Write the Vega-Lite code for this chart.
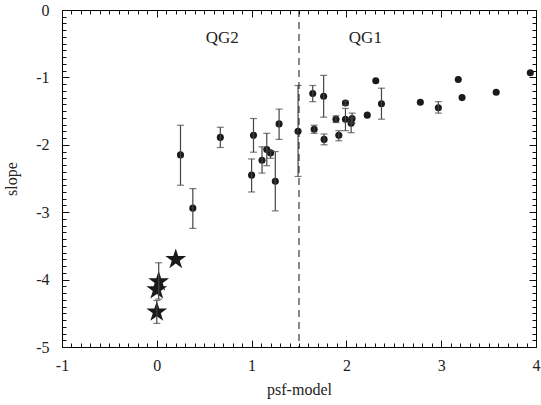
{
  "$schema": "https://vega.github.io/schema/vega-lite/v6.json",
  "width": 474,
  "height": 337,
  "autosize": "none",
  "padding": {"left": 62, "top": 10, "right": 5, "bottom": 58},
  "background": "white",
  "config": {"view": {"stroke": "black", "strokeWidth": 1}},
  "data": {"values": [
      {"x": 0.25, "y": -2.15, "lo": -2.6, "hi": -1.71, "kind": "circle"},
      {"x": 0.38, "y": -2.94, "lo": -3.24, "hi": -2.65, "kind": "circle"},
      {"x": 0.67, "y": -1.89, "lo": -2.04, "hi": -1.74, "kind": "circle"},
      {"x": 1.0, "y": -2.45, "lo": -2.7, "hi": -2.21, "kind": "circle"},
      {"x": 1.02, "y": -1.86, "lo": -2.11, "hi": -1.61, "kind": "circle"},
      {"x": 1.11, "y": -2.23, "lo": -2.42, "hi": -2.03, "kind": "circle"},
      {"x": 1.16, "y": -2.07, "lo": -2.31, "hi": -1.83, "kind": "circle"},
      {"x": 1.2, "y": -2.12, "lo": -2.2, "hi": -2.09, "kind": "circle"},
      {"x": 1.25, "y": -2.54, "lo": -2.98, "hi": -2.1, "kind": "circle"},
      {"x": 1.29, "y": -1.69, "lo": -1.92, "hi": -1.47, "kind": "circle"},
      {"x": 1.49, "y": -1.8, "lo": -2.47, "hi": -1.12, "kind": "circle"},
      {"x": 1.645, "y": -1.24, "lo": -1.36, "hi": -1.12, "kind": "circle"},
      {"x": 1.66, "y": -1.77, "lo": -1.83, "hi": -1.71, "kind": "circle"},
      {"x": 1.76, "y": -1.28, "lo": -1.59, "hi": -0.97, "kind": "circle"},
      {"x": 1.765, "y": -1.92, "lo": -2.0, "hi": -1.84, "kind": "circle"},
      {"x": 1.89, "y": -1.62, "lo": -1.67, "hi": -1.57, "kind": "circle"},
      {"x": 1.92, "y": -1.86, "lo": -1.94, "hi": -1.79, "kind": "circle"},
      {"x": 1.99, "y": -1.38, "lo": -1.41, "hi": -1.35, "kind": "circle"},
      {"x": 1.99, "y": -1.62, "lo": -1.79, "hi": -1.46, "kind": "circle"},
      {"x": 2.06, "y": -1.61, "lo": -1.68, "hi": -1.53, "kind": "circle"},
      {"x": 2.05, "y": -1.68, "lo": -1.82, "hi": -1.6, "kind": "circle"},
      {"x": 2.22, "y": -1.56, "kind": "circle"},
      {"x": 2.31, "y": -1.05, "kind": "circle"},
      {"x": 2.37, "y": -1.39, "lo": -1.62, "hi": -1.16, "kind": "circle"},
      {"x": 2.78, "y": -1.37, "kind": "circle"},
      {"x": 2.97, "y": -1.45, "lo": -1.53, "hi": -1.36, "kind": "circle"},
      {"x": 3.18, "y": -1.03, "kind": "circle"},
      {"x": 3.22, "y": -1.3, "kind": "circle"},
      {"x": 3.58, "y": -1.22, "kind": "circle"},
      {"x": 3.94, "y": -0.93, "kind": "circle"},
      {"x": 0.2, "y": -3.7, "kind": "star"},
      {"x": 0.02, "y": -4.03, "lo": -4.29, "hi": -3.75, "kind": "star"},
      {"x": 0.0, "y": -4.15, "kind": "star"},
      {"x": 0.0, "y": -4.48, "lo": -4.65, "hi": -4.31, "kind": "star"},
      {"x": 0.69, "y": -0.42, "text": "QG2", "kind": "label"},
      {"x": 2.2, "y": -0.42, "text": "QG1", "kind": "label"},
      {"x": 1.5, "kind": "divider"}
  ]},
  "resolve": {"axis": {"x": "independent", "y": "independent"}},
  "layer": [
    {
      "transform": [{"filter": "datum.kind === 'circle'"}],
      "mark": {"type": "point", "shape": "circle", "filled": true, "color": "#1a1a1a", "opacity": 1, "size": 50},
      "encoding": {
        "x": {"field": "x", "type": "quantitative", "scale": {"domain": [-1, 4], "nice": false, "zero": false},
          "axis": {"orient": "bottom", "title": "psf-model", "values": [-1, 0, 1, 2, 3, 4],
            "domain": false, "grid": false, "tickColor": "#111", "tickWidth": 1, "tickSize": -7,
            "labelExpr": "'' + datum.value", "labelPadding": 17, "labelFlush": false,
            "labelFont": "Liberation Serif", "labelFontSize": 16, "labelColor": "#222",
            "titleFont": "Liberation Serif", "titleFontSize": 16, "titleFontWeight": "normal", "titleColor": "#222", "titlePadding": 8}},
        "y": {"field": "y", "type": "quantitative", "scale": {"domain": [-5, 0], "nice": false, "zero": false},
          "axis": {"orient": "left", "title": "slope", "values": [-5, -4, -3, -2, -1, 0],
            "domain": false, "grid": false, "tickColor": "#111", "tickWidth": 1, "tickSize": -7,
            "labelExpr": "'' + datum.value", "labelPadding": 20, "labelFlush": false,
            "labelFont": "Liberation Serif", "labelFontSize": 16, "labelColor": "#222",
            "titleFont": "Liberation Serif", "titleFontSize": 16, "titleFontWeight": "normal", "titleColor": "#222", "titlePadding": 16}}
      }
    },
    {
      "transform": [{"filter": "datum.kind === 'star'"}],
      "mark": {"type": "point", "shape": "M0,-1L0.2245,-0.309L0.951,-0.309L0.3633,0.118L0.588,0.809L0,0.382L-0.588,0.809L-0.3633,0.118L-0.951,-0.309L-0.2245,-0.309Z", "filled": true, "color": "#1a1a1a", "opacity": 1, "size": 480},
      "encoding": {
        "x": {"field": "x", "type": "quantitative",
          "axis": {"orient": "top", "title": null, "values": [-1, 0, 1, 2, 3, 4], "domain": false, "grid": false,
            "tickColor": "#111", "tickWidth": 1, "tickSize": -7, "labels": false}},
        "y": {"field": "y", "type": "quantitative",
          "axis": {"orient": "right", "title": null, "values": [-5, -4, -3, -2, -1, 0], "domain": false, "grid": false,
            "tickColor": "#111", "tickWidth": 1, "tickSize": -7, "labels": false}}
      }
    },
    {
      "transform": [{"filter": "isValid(datum.lo)"}],
      "mark": {"type": "rule", "color": "#444", "strokeWidth": 1.2},
      "encoding": {
        "x": {"field": "x", "type": "quantitative",
          "axis": {"orient": "bottom", "title": null, "tickCount": 50, "domain": false, "grid": false,
            "tickColor": "#111", "tickWidth": 1, "tickSize": -4, "labels": false}},
        "y": {"field": "lo", "type": "quantitative",
          "axis": {"orient": "left", "title": null, "tickCount": 50, "domain": false, "grid": false,
            "tickColor": "#111", "tickWidth": 1, "tickSize": -4, "labels": false}},
        "y2": {"field": "hi"}
      }
    },
    {
      "transform": [{"filter": "isValid(datum.lo)"}],
      "mark": {"type": "tick", "orient": "horizontal", "color": "#444", "size": 7, "thickness": 1.2},
      "encoding": {
        "x": {"field": "x", "type": "quantitative",
          "axis": {"orient": "top", "title": null, "tickCount": 50, "domain": false, "grid": false,
            "tickColor": "#111", "tickWidth": 1, "tickSize": -4, "labels": false}},
        "y": {"field": "lo", "type": "quantitative",
          "axis": {"orient": "right", "title": null, "tickCount": 50, "domain": false, "grid": false,
            "tickColor": "#111", "tickWidth": 1, "tickSize": -4, "labels": false}}
      }
    },
    {
      "transform": [{"filter": "isValid(datum.hi)"}],
      "mark": {"type": "tick", "orient": "horizontal", "color": "#444", "size": 7, "thickness": 1.2},
      "encoding": {
        "x": {"field": "x", "type": "quantitative", "axis": null},
        "y": {"field": "hi", "type": "quantitative", "axis": null}
      }
    },
    {
      "transform": [{"filter": "datum.kind === 'divider'"}],
      "mark": {"type": "rule", "color": "#111", "strokeDash": [7, 5], "strokeWidth": 1},
      "encoding": {"x": {"field": "x", "type": "quantitative", "axis": null}}
    },
    {
      "transform": [{"filter": "datum.kind === 'label'"}],
      "mark": {"type": "text", "font": "Liberation Serif", "fontSize": 17, "color": "#222"},
      "encoding": {
        "x": {"field": "x", "type": "quantitative", "axis": null},
        "y": {"field": "y", "type": "quantitative", "axis": null},
        "text": {"field": "text"}
      }
    }
  ]
}
